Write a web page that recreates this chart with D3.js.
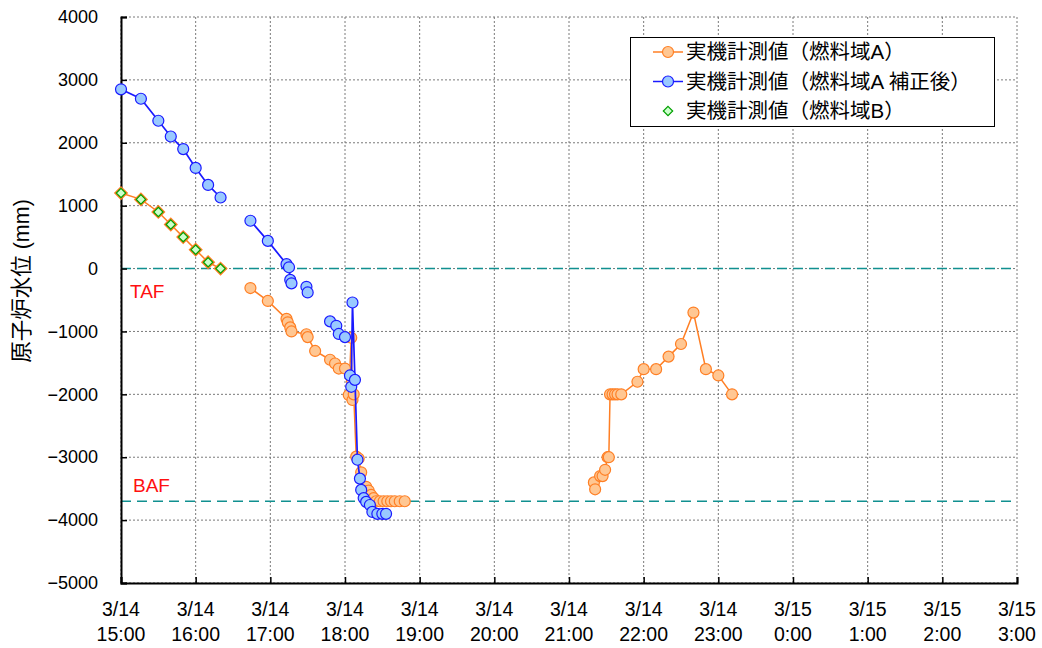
<!DOCTYPE html>
<html><head><meta charset="utf-8">
<script src="https://cdn.jsdelivr.net/npm/d3@7"></script>
<style>body{margin:0;background:#fff}</style>
</head><body>
<svg id="c" width="1042" height="648"></svg>
<script>
// ---------- data ----------
const yTicks = [4000, 3000, 2000, 1000, 0, -1000, -2000, -3000, -4000, -5000];
const xTickTimes = ["3/14 15:00","3/14 16:00","3/14 17:00","3/14 18:00","3/14 19:00","3/14 20:00",
  "3/14 21:00","3/14 22:00","3/14 23:00","3/15 0:00","3/15 1:00","3/15 2:00","3/15 3:00"];
const levelTAF = 0;
const levelBAF = -3700;
const markerLabels = ["TAF", "BAF"];

// 実機計測値（燃料域B）
const fuelBTimes  = ["3/14 15:00","3/14 15:16","3/14 15:30","3/14 15:40","3/14 15:50","3/14 16:00","3/14 16:10","3/14 16:20"];
const fuelBValues = [1200, 1100, 900, 700, 500, 300, 100, 0];

// 実機計測値（燃料域A） null = gap
const fuelATimes = ["3/14 15:00","3/14 15:16","3/14 15:30","3/14 15:40","3/14 15:50","3/14 16:00","3/14 16:10","3/14 16:20",
  null,
  "3/14 16:44","3/14 16:58","3/14 17:13","3/14 17:14","3/14 17:16","3/14 17:17","3/14 17:29","3/14 17:30","3/14 17:36",
  "3/14 17:48","3/14 17:52","3/14 17:55","3/14 18:00","3/14 18:03","3/14 18:05","3/14 18:06","3/14 18:07",
  "3/14 18:09","3/14 18:11","3/14 18:13","3/14 18:17","3/14 18:19","3/14 18:21","3/14 18:23","3/14 18:25",
  "3/14 18:28","3/14 18:31","3/14 18:34","3/14 18:37","3/14 18:40","3/14 18:44","3/14 18:48",
  null,
  "3/14 21:20","3/14 21:21","3/14 21:25","3/14 21:27","3/14 21:29","3/14 21:31","3/14 21:32","3/14 21:33",
  "3/14 21:35","3/14 21:37","3/14 21:39","3/14 21:42","3/14 21:55","3/14 22:00","3/14 22:10","3/14 22:20",
  "3/14 22:30","3/14 22:40","3/14 22:50","3/14 23:00","3/14 23:11"];
const fuelAValues = [1200, 1100, 900, 700, 500, 300, 100, 0,
  null,
  -310, -515, -800, -855, -935, -1000, -1045, -1090, -1310,
  -1450, -1510, -1590, -1590, -2010, -1100, -2090, -2000,
  -2990, -3020, -3240, -3470, -3530, -3600, -3650, -3700,
  -3700, -3700, -3700, -3700, -3700, -3700, -3700,
  null,
  -3400, -3510, -3300, -3300, -3200, -3000, -3000, -2000,
  -2000, -2000, -2000, -2000, -1800, -1600, -1600, -1400,
  -1200, -700, -1600, -1700, -2000];

// 実機計測値（燃料域A 補正後） null = gap
const fuelACorrTimes = ["3/14 15:00","3/14 15:16","3/14 15:30","3/14 15:40","3/14 15:50","3/14 16:00","3/14 16:10","3/14 16:20",
  null,
  "3/14 16:44","3/14 16:58","3/14 17:13","3/14 17:15","3/14 17:16","3/14 17:17",
  null,
  "3/14 17:29","3/14 17:30",
  null,
  "3/14 17:48","3/14 17:53","3/14 17:55","3/14 18:00",
  null,
  "3/14 18:04","3/14 18:05","3/14 18:06","3/14 18:08","3/14 18:10","3/14 18:12","3/14 18:13","3/14 18:15",
  "3/14 18:17","3/14 18:20","3/14 18:22","3/14 18:26","3/14 18:30","3/14 18:33"];
const fuelACorrValues = [2850, 2700, 2350, 2100, 1900, 1600, 1330, 1130,
  null,
  760, 440, 70, 20, -180, -235,
  null,
  -290, -380,
  null,
  -840, -910, -1040, -1090,
  null,
  -1700, -1880, -540, -1770, -3040, -3340, -3520, -3650,
  -3710, -3760, -3870, -3900, -3900, -3900];

const legendLabels = ["実機計測値（燃料域A）", "実機計測値（燃料域A 補正後）", "実機計測値（燃料域B）"];
const yTitle = "原子炉水位 (mm)";

// ---------- chart ----------
const parse = s => d3.timeParse("%Y/%m/%d %H:%M")("2011/" + s);
const svg = d3.select("#c");
const FONT = "'Liberation Sans', Arial, 'Noto Sans CJK JP', sans-serif";
const L = 121, R = 1017, T = 17, B = 583;

const x = d3.scaleTime().domain([parse(xTickTimes[0]), parse(xTickTimes[xTickTimes.length - 1])]).range([L, R]);
const y = d3.scaleLinear().domain([-5000, 4000]).range([B, T]);

const zip = (ts, vs) => ts.map((t, i) => ({t: t ? parse(t) : null, v: vs[i]}));
const dataA = zip(fuelATimes, fuelAValues);
const dataC = zip(fuelACorrTimes, fuelACorrValues);
const dataB = zip(fuelBTimes, fuelBValues);
const bSet = new Set(fuelBTimes);

// gridlines
const g = svg.append("g");
g.selectAll(".hg").data(yTicks).join("line")
  .attr("x1", L).attr("x2", R).attr("y1", d => y(d)).attr("y2", d => y(d))
  .attr("stroke", "#7a7a7a").attr("stroke-width", 1).attr("stroke-dasharray", "2,2");
g.selectAll(".vg").data(xTickTimes).join("line")
  .attr("x1", d => x(parse(d))).attr("x2", d => x(parse(d))).attr("y1", T).attr("y2", B)
  .attr("stroke", "#7a7a7a").attr("stroke-width", 1).attr("stroke-dasharray", "2,2");

// reference lines
[levelTAF, levelBAF].forEach(v => {
  svg.append("line").attr("x1", L).attr("x2", R).attr("y1", y(v)).attr("y2", y(v))
    .attr("stroke", "#109090").attr("stroke-width", 1.5).attr("stroke-dasharray", "10,6");
});
svg.append("text").attr("x", 130).attr("y", y(levelTAF) + 29).text(markerLabels[0])
  .attr("fill", "#ff1010").attr("font-family", FONT).attr("font-size", 19);
svg.append("text").attr("x", 133).attr("y", y(levelBAF) - 9).text(markerLabels[1])
  .attr("fill", "#ff1010").attr("font-family", FONT).attr("font-size", 19);

// axes
const yAxis = d3.axisLeft(y).tickValues(yTicks).tickSize(-6).tickPadding(23).tickFormat(d3.format("d"));
const ya = svg.append("g").attr("transform", `translate(${L},0)`).call(yAxis);
ya.select(".domain").attr("stroke", "#000").attr("stroke-width", 2);
ya.selectAll(".tick line").attr("stroke", "#000").attr("stroke-width", 1.5);
ya.selectAll("text").attr("font-family", FONT).attr("font-size", 18).attr("fill", "#000");

const xAxis = d3.axisBottom(x).tickValues(xTickTimes.map(parse)).tickSize(-6).tickFormat("");
const xa = svg.append("g").attr("transform", `translate(0,${B})`).call(xAxis);
xa.select(".domain").attr("stroke", "#000").attr("stroke-width", 2);
xa.selectAll(".tick line").attr("stroke", "#000").attr("stroke-width", 1.5);
const fmtD = d => `${d.getMonth() + 1}/${d.getDate()}`;
const fmtT = d => `${d.getHours()}:${String(d.getMinutes()).padStart(2, "0")}`;
const xl = svg.append("g").selectAll("text").data(xTickTimes.map(parse)).join("text")
  .attr("x", d => x(d)).attr("text-anchor", "middle")
  .attr("font-family", FONT).attr("font-size", 19.5).attr("fill", "#000");
xl.append("tspan").attr("x", d => x(d)).attr("y", 616).text(fmtD);
xl.append("tspan").attr("x", d => x(d)).attr("y", 641).text(fmtT);

// y title
svg.append("text").attr("transform", "translate(29,281) rotate(-90)").attr("text-anchor", "middle")
  .attr("font-family", FONT).attr("font-size", 21.5).attr("fill", "#000").text(yTitle);

// series
const line = d3.line().defined(d => d.v !== null && d.t !== null).x(d => x(d.t)).y(d => y(d.v));
const ORANGE = "#ff7f24", ORFILL = "#ffc793", BLUE = "#1a1aff", BLFILL = "#99c9ff";

svg.append("path").datum(dataA).attr("d", line).attr("fill", "none").attr("stroke", ORANGE).attr("stroke-width", 1.5);
svg.append("g").selectAll("circle")
  .data(dataA.filter((d, i) => d.v !== null && !bSet.has(fuelATimes[i])))
  .join("circle").attr("cx", d => x(d.t)).attr("cy", d => y(d.v)).attr("r", 5.5)
  .attr("fill", ORFILL).attr("stroke", ORANGE).attr("stroke-width", 1.2);

svg.append("path").datum(dataC).attr("d", line).attr("fill", "none").attr("stroke", BLUE).attr("stroke-width", 1.7);
svg.append("g").selectAll("circle").data(dataC.filter(d => d.v !== null))
  .join("circle").attr("cx", d => x(d.t)).attr("cy", d => y(d.v)).attr("r", 5.5)
  .attr("fill", BLFILL).attr("stroke", BLUE).attr("stroke-width", 1.2);

const diamond = d3.symbol().type(d3.symbolDiamond2).size(56);
const dg = svg.append("g");
dg.selectAll(".halo").data(dataB).join("path")
  .attr("transform", d => `translate(${x(d.t)},${y(d.v)})`).attr("d", diamond)
  .attr("fill", "none").attr("stroke", ORANGE).attr("stroke-width", 3.5);
dg.selectAll(".dm").data(dataB).join("path")
  .attr("transform", d => `translate(${x(d.t)},${y(d.v)})`).attr("d", diamond)
  .attr("fill", "#ccffcc").attr("stroke", "#00a000").attr("stroke-width", 1.2);

// legend
const lg = svg.append("g");
lg.append("rect").attr("x", 630.5).attr("y", 37.5).attr("width", 364).attr("height", 89)
  .attr("fill", "#fff").attr("stroke", "#000").attr("stroke-width", 1);
const rows = [52, 81.5, 111];
legendLabels.forEach((lab, i) => {
  const yy = rows[i];
  if (i < 2) {
    lg.append("line").attr("x1", 653).attr("x2", 683).attr("y1", yy).attr("y2", yy)
      .attr("stroke", i === 0 ? ORANGE : BLUE).attr("stroke-width", 1.5);
    lg.append("circle").attr("cx", 668).attr("cy", yy).attr("r", 5.5)
      .attr("fill", i === 0 ? ORFILL : BLFILL).attr("stroke", i === 0 ? ORANGE : BLUE).attr("stroke-width", 1.2);
  } else {
    lg.append("path").attr("transform", `translate(668,${yy})`).attr("d", diamond)
      .attr("fill", "#ccffcc").attr("stroke", "#00a000").attr("stroke-width", 1.2);
  }
  lg.append("text").attr("x", 686).attr("y", yy).attr("dy", "0.36em").text(lab)
    .attr("font-family", FONT).attr("font-size", 20.5).attr("fill", "#000");
});
</script>
</body></html>
